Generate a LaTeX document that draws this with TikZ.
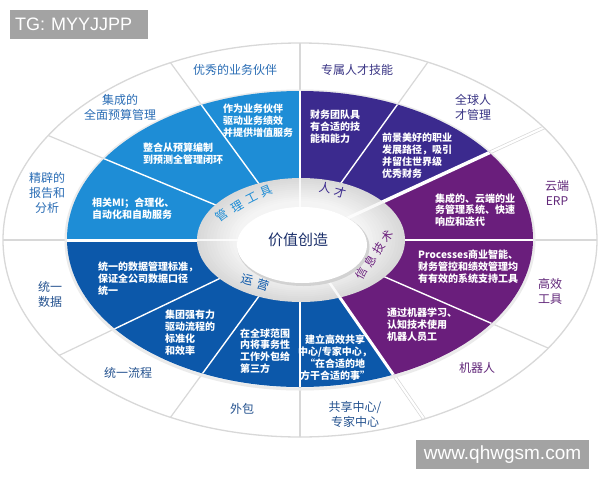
\documentclass[tikz,border=0pt]{standalone}
\usepackage{fontspec}
\setmainfont{Noto Sans CJK SC}
\newfontfamily\wmfont{Liberation Sans}
\definecolor{cA}{HTML}{1E8DD6}
\definecolor{cB}{HTML}{3B2A8E}
\definecolor{cC}{HTML}{6A1E7C}
\definecolor{cD}{HTML}{0C58AA}
\definecolor{tA}{HTML}{2A6DB5}
\definecolor{tB}{HTML}{3A3585}
\definecolor{tC}{HTML}{62287A}
\definecolor{tD}{HTML}{24528F}
\definecolor{navy}{HTML}{1B2F6A}
\definecolor{wmgray}{HTML}{A3A3A3}
\definecolor{ringline}{HTML}{D8D8D8}
\tikzset{
  outlbl/.style={font=\fontsize{12}{15}\selectfont, align=center, inner sep=0pt},
  inlbl/.style={font=\bfseries\fontsize{10}{11.8}\selectfont, text=white, align=left, anchor=west, inner sep=0pt},
  ringch/.style={font=\fontsize{12}{12}\selectfont, inner sep=0pt},
  subdiv/.style={white, line width=1.4pt},
  quaddiv/.style={white, line width=3pt},
  outdiv/.style={ringline, line width=1.2pt},
  outdouble/.style={draw=ringline, double=white, double distance=2.2pt, line width=0.7pt},
  wmbox/.style={fill=wmgray, text=white, inner sep=0pt, minimum height=29pt}
}
\begin{document}
\begin{tikzpicture}[x=1pt,y=-1pt]
\useasboundingbox (0,0) rectangle (600,480);
\coordinate (O) at (300,240);
% far points of the radial dividers
\coordinate (fD1) at (-90,-294);
\coordinate (fD2) at (-459,-75);
\coordinate (fUp) at (300,-400);
\coordinate (fD3) at (684,-294);
\coordinate (fQTR) at (1035,-99);
\coordinate (fRt) at (1000,240);
\coordinate (fD4) at (1044,564);
\coordinate (fQBR) at (591,660);
\coordinate (fDn) at (300,1000);
\coordinate (fD5) at (-90,774);
\coordinate (fD6) at (-420,585);
\coordinate (fLt) at (-400,240);

% outer ring
\fill[white] (O) ellipse [x radius=297pt, y radius=197pt];
\begin{scope}
  \clip (O) ellipse [x radius=297pt, y radius=197pt];
  \foreach \p in {fD1,fD2,fUp,fD3,fRt,fD4,fDn,fD5,fD6,fLt} \draw[outdiv] (O) -- (\p);
  \draw[outdouble] (O) -- (fQTR);
  \draw[outdouble] (O) -- (fQBR);
\end{scope}
\draw[ringline, line width=1.3pt] (O) ellipse [x radius=297pt, y radius=197pt];
\draw[black!8, line width=3pt] (300,240) ellipse [x radius=234pt, y radius=149pt];

% coloured quadrants
\begin{scope}
  \clip (300,239) ellipse [x radius=233pt, y radius=148pt];
  \fill[cA] (O) -- (fLt) -- (-400,-400) -- (fUp) -- cycle;
  \fill[cB] (O) -- (fUp) -- (1100,-400) -- (1280,-212) -- cycle;
  \fill[cC] (O) -- (1280,-212) -- (1300,1000) -- (785,940) -- cycle;
  \fill[cD] (O) -- (785,940) -- (-400,940) -- (fLt) -- cycle;
  \foreach \p in {fD1,fD2,fD3,fRt,fD4,fDn,fD5,fD6} \draw[subdiv] (O) -- (\p);
  \draw[white, line width=2pt] (O) -- (fUp);
  \draw[quaddiv] (O) -- (fLt);
  \draw[white, line width=3.5pt] (O) -- (fQTR);
  \draw[quaddiv] (O) -- (fQBR);
\end{scope}

% grey ring
\foreach \i in {0,...,12} {
  \pgfmathsetmacro\rx{104-\i*3.2}
  \pgfmathsetmacro\ry{62-\i*1.9}
  \pgfmathsetmacro\sh{30-\i*1.8}
  \fill[gray!\sh] (301,240) ellipse [x radius=\rx pt, y radius=\ry pt];
}
\begin{scope}
  \clip (301,240) ellipse [x radius=104pt, y radius=62pt];
  \draw[white, opacity=0.8, line width=2pt] (O) -- (fUp);
  \draw[white, opacity=0.8, line width=2.5pt] (O) -- (fLt);
  \draw[white, opacity=0.8, line width=3pt] (O) -- (fQTR);
  \draw[white, opacity=0.8, line width=2.5pt] (O) -- (fQBR);
\end{scope}
\fill[gray!35] (303.5,247) ellipse [x radius=66pt, y radius=39pt];
\fill[white] (302,245) ellipse [x radius=65pt, y radius=38pt];

\node (core) [font=\fontsize{15}{15}\selectfont, text=navy, inner sep=0pt] at (298,240) {价值创造};

% ring labels
\node (g1) [ringch, text=cA, rotate=36] at (222,215) {管};
\node (g2) [ringch, text=cA, rotate=31] at (237,206.5) {理};
\node (g3) [ringch, text=cA, rotate=27] at (252,198) {工};
\node (g4) [ringch, text=cA, rotate=23] at (266,191) {具};
\node (r1) [ringch, text=cB, rotate=-8] at (325,188) {人};
\node (r2) [ringch, text=cB, rotate=-14] at (340,192) {才};
\node (x1) [ringch, font=\fontsize{11.5}{12}\selectfont, text=cC, rotate=62] at (361.5,273.5) {信};
\node (x2) [ringch, font=\fontsize{11.5}{12}\selectfont, text=cC, rotate=60] at (370,261) {息};
\node (x3) [ringch, font=\fontsize{11.5}{12}\selectfont, text=cC, rotate=57] at (378.5,248.5) {技};
\node (x4) [ringch, font=\fontsize{11.5}{12}\selectfont, text=cC, rotate=54] at (387,236.5) {术};
\node (y1) [ringch, text=cD, rotate=-14] at (247,280) {运};
\node (y2) [ringch, text=cD, rotate=-18] at (263,285) {营};

% outer labels
\node (o1) [outlbl, text=tA] at (235,70) {优秀的业务伙伴};
\node (o2) [outlbl, text=tA] at (120,107.5) {集成的\\全面预算管理};
\node (o3) [outlbl, text=tA] at (47,193) {精辟的\\报告和\\分析};
\node (o4) [outlbl, text=tB] at (357,70) {专属人才技能};
\node (o5) [outlbl, text=tB] at (473,107.5) {全球人\\才管理};
\node (o6) [outlbl, text=tC] at (557,192.5) {云端\\ERP};
\node (o7) [outlbl, text=tC] at (550,291.5) {高效\\工具};
\node (o8) [outlbl, text=tC] at (477,368) {机器人};
\node (o9) [outlbl, text=tD] at (355,414.5) {共享中心/\\专家中心};
\node (o10) [outlbl, text=tD] at (242,409) {外包};
\node (o11) [outlbl, text=tD] at (128,373) {统一流程};
\node (o12) [outlbl, text=tD] at (50,294.5) {统一\\数据};

% inner labels
\node (i1) [inlbl] at (223,121) {作为业务伙伴\\驱动业务绩效\\并提供增值服务};
\node (i2) [inlbl] at (143,154) {整合从预算编制\\到预测全管理闭环};
\node (i3) [inlbl] at (92,208.5) {相关MI；合理化、\\自动化和自助服务};
\node (i4) [inlbl] at (310,126.5) {财务团队具\\有合适的技\\能和能力};
\node (i5) [inlbl] at (382,155.5) {前景美好的职业\\发展路径，吸引\\并留住世界级\\优秀财务};
\node (i6) [inlbl] at (435,210) {集成的、云端的业\\务管理系统、快速\\响应和迭代};
\node (i7) [inlbl] at (418,266.5) {Processes商业智能、\\财务管控和绩效管理均\\有有效的系统支持工具};
\node (i8) [inlbl] at (387,325) {通过机器学习、\\认知技术使用\\机器人员工};
\node (i9) [inlbl, align=center, anchor=center] at (335,357.5) {建立高效共享\\中心/专家中心，\\“在合适的地\\方干合适的事”};
\node (i10) [inlbl] at (240,351) {在全球范围\\内将事务性\\工作外包给\\第三方};
\node (i11) [inlbl] at (165,332.5) {集团强有力\\驱动流程的\\标准化\\和效率};
\node (i12) [inlbl] at (98,278.5) {统一的数据管理标准，\\保证全公司数据口径\\统一};

% watermarks
\node (wm1) [wmbox, anchor=north west, text width=128pt, inner xsep=5pt, align=left,
  font=\wmfont\fontsize{18}{18}\selectfont] at (10,10) {TG: MYYJJPP};
\node (wm2) [wmbox, minimum width=173pt, font=\wmfont\fontsize{19}{19}\selectfont]
  at (502.5,454.5) {www.qhwgsm.com};
\end{tikzpicture}
\end{document}
